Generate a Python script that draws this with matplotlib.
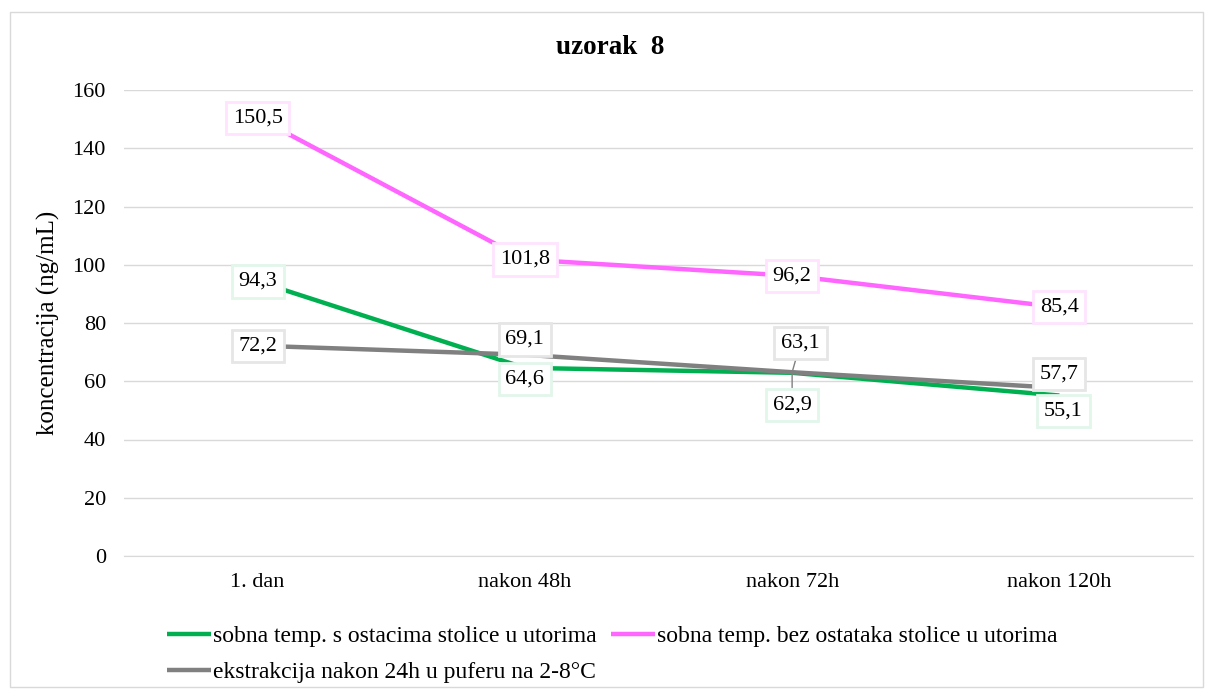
import matplotlib.pyplot as plt
from matplotlib.patches import Rectangle

plt.rcParams['font.family'] = ['Liberation Serif', 'DejaVu Serif']

# podaci
kategorije = ['1. dan', 'nakon 48h', 'nakon 72h', 'nakon 120h']
s_ostacima = [94.3, 64.6, 62.9, 55.1]
bez_ostataka = [150.5, 101.8, 96.2, 85.4]
ekstrakcija = [72.2, 69.1, 63.1, 57.7]

nazivi = ['sobna temp. s ostacima stolice u utorima',
          'sobna temp. bez ostataka stolice u utorima',
          'ekstrakcija nakon 24h u puferu na 2-8°C']
boje = ['#00B050', '#FF66FF', '#808080']
rubovi = ['#e2f6ea', '#ffe3ff', '#e6e6e6']

# pomaci oznaka (u tockama) za svaku seriju
pomaci = [
    [(0, 0), (0, -8), (0, -23), (3, -11)],
    [(0, 0), (0, 0), (0, 0), (0, 0)],
    [(0, 0), (0, 11), (6, 21), (0, 10)],
]

fig = plt.figure(figsize=(12.06, 6.89), dpi=100)
ax = fig.add_axes([124 / 1206, 1 - 556 / 689, (1193 - 124) / 1206, (556 - 90) / 689])

fig.patches.append(Rectangle((10 / 1206, 2 / 689), 1193 / 1206, 675 / 689,
                             transform=fig.transFigure, fill=False,
                             edgecolor='#d9d9d9', lw=1))

x = range(len(kategorije))
serije = [s_ostacima, bez_ostataka, ekstrakcija]
redoslijed = [1, 0, 2]
for i in redoslijed:
    ax.plot(x, serije[i], color=boje[i], lw=3.2, label=nazivi[i],
            solid_capstyle='butt', zorder=3)

for i in redoslijed:
    for j, v in enumerate(serije[i]):
        tekst = f'{v:.1f}'.replace('.', ',')
        dx, dy = pomaci[i][j]
        strelica = None
        if j == 2 and i in (0, 2):
            strelica = dict(arrowstyle='-', color='#808080', lw=1,
                            shrinkA=0, shrinkB=0)
        ax.annotate(tekst, (j, v), xytext=(dx, dy), textcoords='offset points',
                    ha='center', va='center', fontsize=16, zorder=5,
                    bbox=dict(boxstyle='square,pad=0.3', facecolor='white',
                              edgecolor=rubovi[i], lw=2),
                    arrowprops=strelica)

ax.set_xlim(-0.5, 3.5)
ax.set_ylim(0, 160)
ax.set_yticks(range(0, 161, 20))
ax.set_xticks(list(x))
ax.set_xticklabels(kategorije)
ax.tick_params(axis='y', length=0, labelsize=16, pad=13)
ax.tick_params(axis='x', length=0, labelsize=16, pad=12)
ax.grid(axis='y', color='#d9d9d9', lw=1)
ax.set_axisbelow(True)
for s in ['top', 'right', 'left']:
    ax.spines[s].set_visible(False)
ax.spines['bottom'].set_color('#d9d9d9')
ax.set_ylabel('koncentracija (ng/mL)', fontsize=18, labelpad=9)

fig.text(610 / 1206, 1 - 48 / 689, 'uzorak  8', ha='center', va='center',
         fontsize=19.5, fontweight='bold')

h, l = ax.get_legend_handles_labels()
hd = dict(zip(l, h))
# ncol=2 puni po stupcima, pa redoslijed: zelena, siva, ruzicasta
red_leg = [nazivi[0], nazivi[2], nazivi[1]]
fig.legend([hd[n] for n in red_leg], red_leg, loc='upper left',
           bbox_to_anchor=(155 / 1206, 1 - 614 / 689), ncol=2, frameon=False,
           fontsize=17, handlelength=1.86, handletextpad=0.1,
           columnspacing=0.6, labelspacing=0.6, borderpad=0)

fig.savefig('out.png', dpi=100)
